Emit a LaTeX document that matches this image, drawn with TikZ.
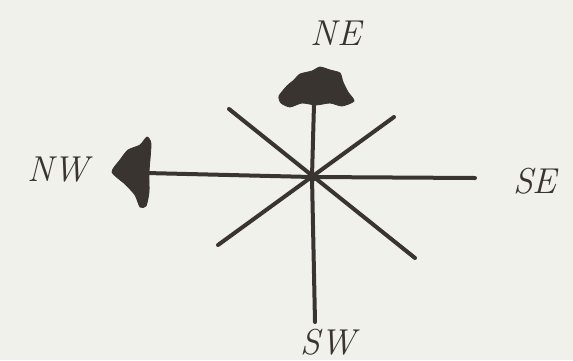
\documentclass[tikz,border=0pt]{standalone}
\usepackage{xcolor}
\usepackage{tikz}
\definecolor{inkbrown}{HTML}{3A3431}
\definecolor{paper}{HTML}{F1F1EC}

\tikzset{
  ray/.style={draw=inkbrown, line width=4pt, line cap=round},
  windlabel/.style={text=inkbrown, font=\fontsize{36}{38}\selectfont\itshape, inner sep=0pt},
  blob/.style={fill=inkbrown, draw=inkbrown, line width=0.8pt}
}

\begin{document}
\begin{tikzpicture}[x=1pt, y=-1pt]

  % ══ PAPER ═════════════════════════════════════════════════════
  \fill[paper] (0,0) rectangle (573,360);
  \useasboundingbox (0,0) rectangle (573,360);

  % ══ CENTRE AND RAY ENDS ═══════════════════════════════════════
  \coordinate (hub) at (312,177);
  \coordinate (top)    at (314,104);
  \coordinate (bottom) at (315,322);
  \coordinate (left)   at (146,173);
  \coordinate (right)  at (475,178);
  \coordinate (ul) at (229,109);
  \coordinate (lr) at (415,258);
  \coordinate (ur) at (394,117);
  \coordinate (ll) at (218,245);

  % ══ RAYS ══════════════════════════════════════════════════════
  \draw[ray] (hub) -- (top);
  \draw[ray] (hub) -- (bottom);
  \draw[ray] (hub) -- (left);
  \draw[ray] (hub) -- (right);
  \draw[ray] (ul) -- (lr);
  \draw[ray] (ur) -- (ll);
  \fill[inkbrown] (hub) circle (5);

  % ══ BLOBS ═════════════════════════════════════════════════════
  \draw[blob] plot[smooth cycle, tension=0.4] coordinates {
    (279,96) (287,86) (294,80) (300,74) (312,71) (320,67) (330,70)
    (340,73) (343,82) (348,92) (354,101) (342,106) (330,103)
    (316,105) (302,103) (290,107) (281,103)};
  \draw[blob] plot[smooth cycle, tension=0.4] coordinates {
    (112,172) (120,160) (128,150) (140,145) (147,137) (151,144)
    (149,172) (149,192) (146,206) (140,207) (135,195) (125,184)};

  % ══ LABELS ════════════════════════════════════════════════════
  \node[windlabel] (ne) at (336,33)  {NE};
  \node[windlabel] (nw) at (58,170)  {NW};
  \node[windlabel] (se) at (535,181) {SE};
  \node[windlabel] (sw) at (328,342) {SW};

\end{tikzpicture}
\end{document}
